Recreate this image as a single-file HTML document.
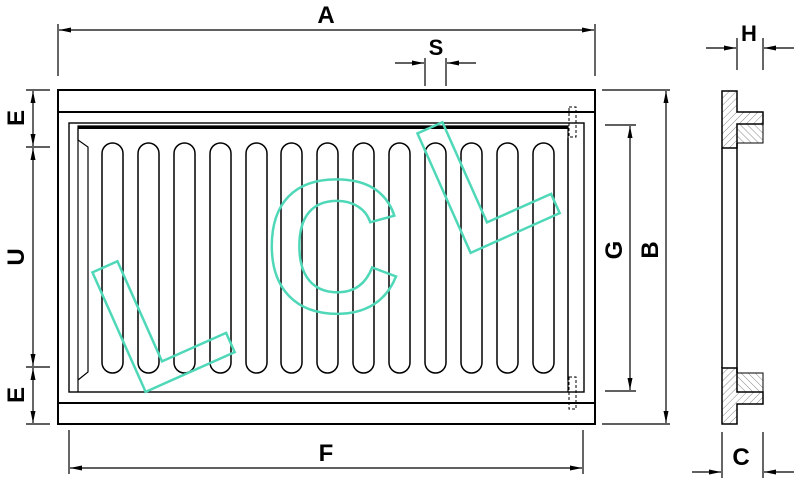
<!DOCTYPE html>
<html><head><meta charset="utf-8"><style>
html,body{margin:0;padding:0;background:#fff}
svg{display:block}
text{font-family:"Liberation Sans",sans-serif;font-weight:bold;fill:#000}
</style></head><body>
<svg width="800" height="484" viewBox="0 0 800 484" xmlns="http://www.w3.org/2000/svg">
<defs>
<marker id="ar" markerWidth="12" markerHeight="6" refX="12" refY="3" orient="auto" markerUnits="userSpaceOnUse"><path d="M0,0.5 L12,3 L0,5.5z" fill="#000"/></marker>
<pattern id="h1" width="5" height="5" patternUnits="userSpaceOnUse" patternTransform="rotate(45)"><line x1="0" y1="0" x2="0" y2="5" stroke="#555" stroke-width="0.7"/></pattern>
<pattern id="h2" width="5" height="5" patternUnits="userSpaceOnUse" patternTransform="rotate(-45)"><line x1="0" y1="0" x2="0" y2="5" stroke="#555" stroke-width="0.7"/></pattern>
</defs>
<g stroke="#000" fill="none" stroke-width="1.4">
<rect x="58" y="90" width="537" height="334" stroke-width="2"/>
<line x1="58" y1="112" x2="595" y2="112" stroke-width="2"/>
<line x1="58" y1="403" x2="595" y2="403" stroke-width="2"/>
<rect x="69" y="123" width="515" height="269"/>
<path d="M78,392 V126 H568 V392" stroke-width="1.2"/>
<line x1="78" y1="127.5" x2="568" y2="127.5" stroke-width="3"/>
<path d="M78,128 V140 L88,147 V372 L78,380" stroke-width="1.2"/>
<line x1="568" y1="138" x2="568" y2="380"/>
<rect x="569" y="107" width="7" height="30" stroke-dasharray="3,2" stroke-width="1"/>
<rect x="569" y="377" width="7" height="32" stroke-dasharray="3,2" stroke-width="1"/>
</g>
<g stroke="#000" fill="none" stroke-width="1.5">
<rect x="102" y="143" width="21" height="230" rx="10.5"/>
<rect x="138" y="143" width="21" height="230" rx="10.5"/>
<rect x="174" y="143" width="21" height="230" rx="10.5"/>
<rect x="210" y="143" width="21" height="230" rx="10.5"/>
<rect x="246" y="143" width="21" height="230" rx="10.5"/>
<rect x="281" y="143" width="21" height="230" rx="10.5"/>
<rect x="317" y="143" width="21" height="230" rx="10.5"/>
<rect x="353" y="143" width="21" height="230" rx="10.5"/>
<rect x="389" y="143" width="21" height="230" rx="10.5"/>
<rect x="425" y="143" width="21" height="230" rx="10.5"/>
<rect x="461" y="143" width="21" height="230" rx="10.5"/>
<rect x="497" y="143" width="21" height="230" rx="10.5"/>
<rect x="533" y="143" width="21" height="230" rx="10.5"/>
</g>
<g style="font-family:'Liberation Sans',sans-serif;font-size:190px">
<text x="0" y="0" transform="translate(134,397) rotate(-24)" style="fill:none;stroke:#4fd8b8;stroke-width:2.5;font-weight:bold">L</text>
<text x="264" y="312" style="fill:none;stroke:#4fd8b8;stroke-width:2.5;font-weight:bold">C</text>
<text x="0" y="0" transform="translate(459,258) rotate(-24)" style="fill:none;stroke:#4fd8b8;stroke-width:2.5;font-weight:bold">L</text>
</g>
<g stroke="#000" stroke-width="1.2" fill="none">
<line x1="58" y1="24" x2="58" y2="76"/><line x1="595" y1="24" x2="595" y2="76"/>
<line x1="326" y1="30" x2="59" y2="30" marker-end="url(#ar)"/><line x1="326" y1="30" x2="594" y2="30" marker-end="url(#ar)"/>
<line x1="425" y1="58" x2="425" y2="86"/><line x1="446" y1="58" x2="446" y2="86"/>
<line x1="395" y1="63" x2="424" y2="63" marker-end="url(#ar)"/><line x1="476" y1="63" x2="447" y2="63" marker-end="url(#ar)"/>
<line x1="69" y1="430" x2="69" y2="474"/><line x1="583" y1="430" x2="583" y2="474"/>
<line x1="326" y1="468" x2="70" y2="468" marker-end="url(#ar)"/><line x1="326" y1="468" x2="582" y2="468" marker-end="url(#ar)"/>
<line x1="602" y1="90" x2="670" y2="90"/><line x1="602" y1="424" x2="670" y2="424"/>
<line x1="666" y1="257" x2="666" y2="91" marker-end="url(#ar)"/><line x1="666" y1="257" x2="666" y2="423" marker-end="url(#ar)"/>
<line x1="605" y1="125" x2="636" y2="125"/><line x1="605" y1="391" x2="636" y2="391"/>
<line x1="630" y1="257" x2="630" y2="126" marker-end="url(#ar)"/><line x1="630" y1="257" x2="630" y2="390" marker-end="url(#ar)"/>
<line x1="26" y1="90" x2="50" y2="90"/><line x1="26" y1="147" x2="50" y2="147"/>
<line x1="26" y1="367" x2="50" y2="367"/><line x1="26" y1="424" x2="50" y2="424"/>
<line x1="33" y1="118" x2="33" y2="91" marker-end="url(#ar)"/><line x1="33" y1="118" x2="33" y2="146" marker-end="url(#ar)"/>
<line x1="33" y1="257" x2="33" y2="148" marker-end="url(#ar)"/><line x1="33" y1="257" x2="33" y2="366" marker-end="url(#ar)"/>
<line x1="33" y1="395" x2="33" y2="368" marker-end="url(#ar)"/><line x1="33" y1="395" x2="33" y2="423" marker-end="url(#ar)"/>
<line x1="737" y1="38" x2="737" y2="70"/><line x1="763" y1="38" x2="763" y2="70"/>
<line x1="706" y1="48" x2="736" y2="48" marker-end="url(#ar)"/><line x1="794" y1="48" x2="764" y2="48" marker-end="url(#ar)"/>
<line x1="722" y1="432" x2="722" y2="478"/><line x1="763" y1="432" x2="763" y2="478"/>
<line x1="692" y1="472" x2="721" y2="472" marker-end="url(#ar)"/><line x1="794" y1="472" x2="764" y2="472" marker-end="url(#ar)"/>
</g>
<g stroke="#000" stroke-width="1.5">
<path d="M722,91 H737 V112 H763 V124 H737 V148 H722 Z" fill="url(#h1)"/>
<rect x="737" y="124" width="26" height="19" fill="url(#h2)" stroke-width="1"/>
<path d="M722,424 H737 V404 H763 V392 H737 V368 H722 Z" fill="url(#h1)"/>
<rect x="737" y="373" width="26" height="19" fill="url(#h2)" stroke-width="1"/>
<line x1="722" y1="148" x2="722" y2="368" fill="none"/>
<line x1="737" y1="143" x2="737" y2="373" fill="none"/>
</g>
<text x="326" y="23" font-size="24" text-anchor="middle">A</text>
<text x="436" y="55" font-size="22" text-anchor="middle">S</text>
<text x="326" y="461" font-size="24" text-anchor="middle">F</text>
<text x="749" y="41" font-size="22" text-anchor="middle">H</text>
<text x="741" y="465" font-size="24" text-anchor="middle">C</text>
<text transform="translate(622,250) rotate(-90)" font-size="24" text-anchor="middle">G</text>
<text transform="translate(658,250) rotate(-90)" font-size="24" text-anchor="middle">B</text>
<text transform="translate(24,118) rotate(-90)" font-size="24" text-anchor="middle">E</text>
<text transform="translate(24,257) rotate(-90)" font-size="24" text-anchor="middle">U</text>
<text transform="translate(24,395) rotate(-90)" font-size="24" text-anchor="middle">E</text>
</svg>
</body></html>
